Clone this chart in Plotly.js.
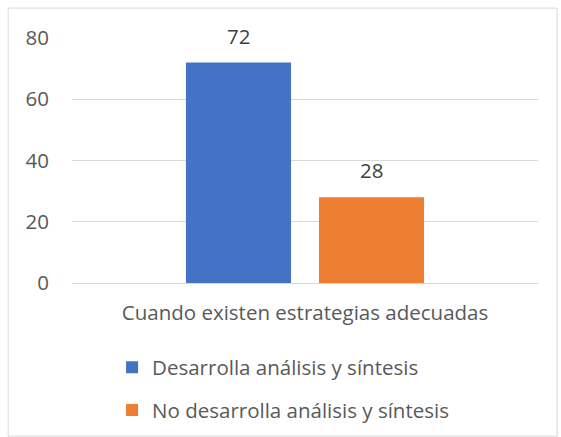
<!DOCTYPE html>
<html><head><meta charset="utf-8">
<script src="https://cdn.plot.ly/plotly-3.0.1.min.js"></script>
<style>body{margin:0;background:#fff}#c{width:561px;height:437px}</style>
</head><body><div id="c"></div>
<script>
const categories = ["Cuando existen estrategias adecuadas"];
const seriesNames = ["Desarrolla análisis y síntesis", "No desarrolla análisis y síntesis"];
const seriesValues = [[72], [28]];
const colors = ["#4472C4", "#ED7D31"];
const yTicks = [0, 20, 40, 60, 80];

const FONT = "'Open Sans', sans-serif";
const FS = 20.5;
const traces = seriesNames.map((n, i) => ({
  type: "bar", name: n, x: categories, y: seriesValues[i],
  marker: {color: colors[i]}, legendgroup: "g" + i, hoverinfo: "none"
}));
const annotations = [];
seriesNames.forEach((n, i) => {
  seriesValues[i].forEach((v, j) => {
    annotations.push({
      x: j + (i === 0 ? -0.1427 : 0.1427), xref: "x", y: v, yref: "y",
      text: String(v), showarrow: false, yanchor: "bottom", yshift: 11,
      font: {family: FONT, size: FS, color: "#404040"}
    });
  });
});
const layout = {
  width: 561, height: 437,
  margin: {l: 72, r: 23, t: 38, b: 154, autoexpand: false},
  paper_bgcolor: "#fff", plot_bgcolor: "#fff",
  barmode: "group", bargap: 0.429, bargroupgap: 0.21,
  font: {family: FONT, size: FS, color: "#595959"},
  xaxis: {type: "category", showgrid: false, showline: false, ticks: "", zeroline: false,
          ticklabelstandoff: 15, tickfont: {family: FONT, size: FS, color: "#595959"}},
  yaxis: {range: [0, 80], tickvals: yTicks, showgrid: true, gridcolor: "#d9d9d9", gridwidth: 1,
          zeroline: true, zerolinecolor: "#d9d9d9", zerolinewidth: 1, showline: false, ticks: "",
          ticklabelstandoff: 22, tickfont: {family: FONT, size: FS, color: "#595959"}},
  showlegend: true,
  legend: {orientation: "v", x: 0.086, xanchor: "left", y: -0.263, yanchor: "top",
           traceorder: "grouped", tracegroupgap: 13,
           font: {family: FONT, size: FS, color: "#595959"}, bgcolor: "rgba(0,0,0,0)"},
  annotations: annotations,
  shapes: [{type: "rect", xref: "paper", yref: "paper", x0: -0.137, x1: 1.041, y0: -0.625, y1: 1.122,
            line: {color: "#d9d9d9", width: 1}, fillcolor: "rgba(0,0,0,0)", layer: "below"}]
};
Plotly.newPlot("c", traces, layout, {staticPlot: true});
</script></body></html>
